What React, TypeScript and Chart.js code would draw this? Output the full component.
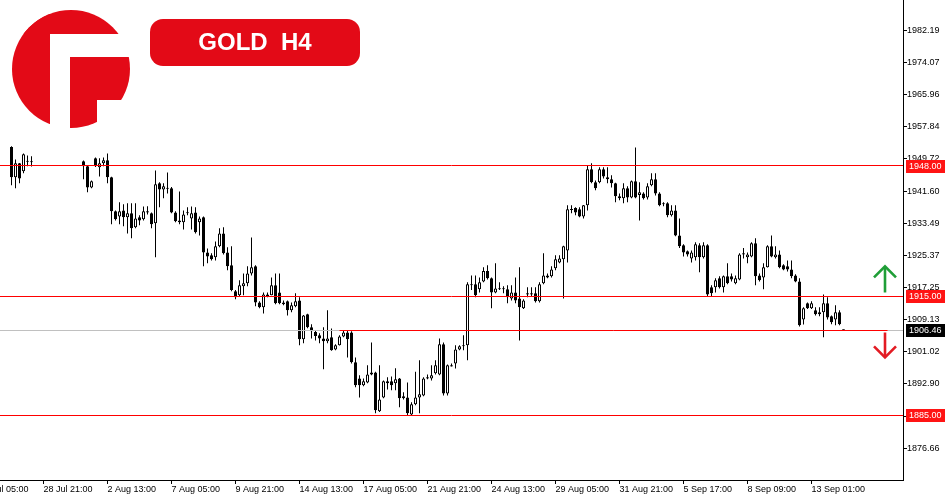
import React, { useEffect, useRef } from "react";
import { Chart, registerables } from "chart.js";

Chart.register(...registerables);

// Bar numbering: bar 0 is the "28 Jul 21:00" H4 bar. First stored bar is bar -8.
const FIRST_BAR = -8;

const opens: (number | null)[] = [
  1952.7, 1945.1, 1948.6, 1946.6, 1949.2, 1948.9,
  null, null, null, null, null, null, null, null, null, null, null, null,
  1949.1, 1947.9, 1942.5, 1949.9, 1947.6, 1948.6, 1949.4, 1945.1, 1936.5, 1935.2,
  1936.7, 1935.0, 1936.0, 1932.5, 1935.0, 1934.5, 1936.2, 1936.0, 1933.5, 1943.6,
  1942.0, 1942.4, 1942.3, 1936.2, 1934.2, 1933.7, 1936.2, 1934.7, 1936.2, 1933.7,
  1935.0, 1926.1, 1925.4, 1924.9, 1927.7, 1930.9, 1926.1, 1922.9, 1916.3, 1915.3,
  1917.6, 1918.3, 1920.8, 1922.6, 1913.5, 1912.3, 1915.0, 1915.3, 1917.8, 1916.0,
  1913.5, 1913.8, 1911.5, 1912.5, 1914.0, 1904.2, 1910.5, 1907.2, 1906.0, 1905.2,
  1904.4, 1903.7, 1904.7, 1901.6, 1902.7, 1904.9, 1905.9, 1905.9, 1898.4, 1894.3,
  1892.6, 1893.3, 1895.3, 1895.8, 1886.0, 1889.5, 1893.6, 1893.6, 1893.1, 1894.3,
  1889.8, 1889.5, 1885.2, 1887.8, 1889.5, 1890.0, 1894.6, 1894.3, 1895.6, 1895.3,
  1902.9, 1890.5, 1897.3, 1898.1, 1901.6, 1902.4, 1902.7, 1917.8, 1918.1, 1916.8,
  1918.8, 1921.4, 1919.6, 1916.0, 1916.8, 1917.0, 1916.8, 1914.5, 1916.0, 1914.5,
  1912.0, 1915.5, 1915.8, 1915.8, 1913.8, 1918.3, 1920.3, 1920.1, 1922.1, 1923.6,
  1924.4, 1926.6, 1937.0, 1937.3, 1937.0, 1935.2, 1938.0, 1947.1, 1943.8, 1943.8,
  1947.1, 1945.1, 1944.6, 1943.6, 1940.3, 1939.8, 1942.3, 1940.0, 1944.1, 1940.6,
  1941.0, 1940.0, 1943.1, 1944.6, 1941.0, 1938.3, 1938.5, 1935.5, 1936.7, 1930.4,
  1927.9, 1926.4, 1924.6, 1924.9, 1927.9, 1924.9, 1927.9, 1917.3, 1917.3, 1919.6,
  1917.3, 1920.1, 1920.1, 1918.3, 1919.3, 1925.6, 1924.9, 1925.1, 1928.4, 1920.3,
  1919.8, 1922.4, 1927.7, 1924.9, 1925.6, 1922.9, 1922.6, 1921.8, 1920.3, 1918.8,
  1909.2, 1913.3, 1912.0, 1911.5, 1910.5, 1911.0, 1913.3, 1910.0, 1909.2, 1911.0, 1906.6,
];

const highs: (number | null)[] = [
  1952.9, 1949.6, 1948.7, 1951.1, 1950.6, 1950.4,
  null, null, null, null, null, null, null, null, null, null, null, null,
  1949.3, 1948.1, 1944.3, 1950.1, 1949.9, 1950.1, 1951.1, 1945.2, 1936.7, 1938.8,
  1938.3, 1938.5, 1938.5, 1938.5, 1935.5, 1937.7, 1937.8, 1936.2, 1946.8, 1943.8,
  1943.6, 1946.3, 1942.6, 1936.5, 1941.5, 1936.7, 1937.5, 1937.7, 1937.5, 1935.2,
  1935.2, 1927.1, 1925.9, 1928.9, 1932.2, 1932.5, 1927.4, 1927.7, 1916.6, 1919.1,
  1920.8, 1922.6, 1929.9, 1922.9, 1913.8, 1916.0, 1916.0, 1919.8, 1920.8, 1920.8,
  1914.0, 1914.0, 1913.5, 1915.8, 1914.8, 1910.3, 1910.6, 1908.0, 1906.5, 1905.7,
  1907.2, 1911.5, 1906.9, 1902.9, 1905.2, 1906.4, 1906.4, 1906.2, 1899.6, 1895.1,
  1894.3, 1897.6, 1903.4, 1896.0, 1897.6, 1893.8, 1894.6, 1894.8, 1896.9, 1894.4,
  1890.8, 1893.3, 1888.3, 1896.0, 1898.9, 1894.6, 1895.3, 1897.6, 1898.9, 1904.4,
  1903.4, 1897.8, 1898.1, 1902.7, 1902.7, 1905.2, 1918.6, 1920.3, 1920.3, 1919.8,
  1922.4, 1922.9, 1919.8, 1923.4, 1918.6, 1917.6, 1917.8, 1917.8, 1919.8, 1922.4,
  1914.3, 1917.3, 1917.3, 1917.3, 1918.6, 1925.9, 1920.8, 1922.6, 1925.4, 1925.4,
  1927.8, 1938.0, 1938.0, 1937.5, 1937.5, 1938.1, 1948.1, 1948.6, 1944.3, 1947.6,
  1947.6, 1947.6, 1945.6, 1943.7, 1941.0, 1943.6, 1942.8, 1944.3, 1952.6, 1943.8,
  1941.3, 1943.6, 1946.1, 1946.1, 1941.3, 1938.8, 1938.8, 1938.0, 1938.0, 1934.7,
  1928.2, 1926.6, 1926.6, 1928.7, 1928.4, 1928.7, 1928.2, 1917.8, 1919.6, 1920.1,
  1920.3, 1923.4, 1920.8, 1920.3, 1925.9, 1927.2, 1926.1, 1928.7, 1929.7, 1920.8,
  1923.4, 1927.9, 1930.4, 1927.7, 1926.6, 1923.1, 1924.1, 1924.1, 1920.6, 1919.6,
  1912.3, 1913.5, 1913.8, 1912.3, 1912.3, 1915.5, 1914.8, 1910.2, 1912.8, 1911.5, 1906.6,
];

const lows: (number | null)[] = [
  1943.1, 1942.3, 1943.6, 1946.1, 1947.9, 1947.8,
  null, null, null, null, null, null, null, null, null, null, null, null,
  1944.6, 1941.3, 1942.3, 1947.7, 1945.3, 1947.9, 1943.6, 1933.2, 1934.2, 1933.2,
  1932.7, 1930.9, 1929.7, 1932.2, 1933.0, 1934.2, 1935.7, 1932.2, 1924.9, 1937.5,
  1939.8, 1941.0, 1936.0, 1933.7, 1933.2, 1931.9, 1935.5, 1931.9, 1930.9, 1930.4,
  1922.6, 1923.4, 1924.1, 1924.1, 1927.4, 1925.6, 1921.6, 1916.3, 1914.3, 1915.0,
  1915.3, 1917.6, 1920.3, 1912.5, 1912.0, 1910.7, 1914.8, 1915.3, 1913.0, 1913.0,
  1912.8, 1910.2, 1911.0, 1912.3, 1902.7, 1903.2, 1907.0, 1904.4, 1903.9, 1903.2,
  1896.6, 1903.2, 1901.3, 1901.4, 1902.6, 1904.7, 1899.6, 1898.1, 1892.1, 1889.5,
  1892.3, 1893.1, 1895.1, 1885.5, 1885.8, 1889.3, 1891.5, 1891.3, 1891.3, 1887.0,
  1889.0, 1885.0, 1885.0, 1887.5, 1885.5, 1889.8, 1894.1, 1893.8, 1895.3, 1895.1,
  1890.0, 1890.0, 1897.3, 1896.8, 1901.4, 1901.4, 1898.9, 1916.6, 1914.8, 1916.0,
  1918.6, 1919.3, 1912.0, 1915.8, 1916.6, 1915.8, 1913.3, 1914.0, 1913.3, 1903.9,
  1911.8, 1914.8, 1915.0, 1913.5, 1913.5, 1918.1, 1919.6, 1919.8, 1921.6, 1923.4,
  1914.5, 1923.6, 1936.0, 1935.5, 1935.0, 1934.7, 1936.7, 1943.6, 1941.8, 1943.6,
  1944.8, 1943.6, 1942.5, 1938.8, 1939.3, 1938.5, 1938.8, 1939.8, 1939.8, 1934.2,
  1939.5, 1939.5, 1942.8, 1940.5, 1937.8, 1937.8, 1935.0, 1935.2, 1930.2, 1927.2,
  1925.1, 1925.1, 1923.6, 1924.1, 1921.1, 1924.6, 1915.0, 1915.0, 1916.0, 1917.0,
  1916.0, 1918.1, 1918.8, 1918.1, 1919.1, 1924.6, 1923.4, 1924.9, 1917.8, 1918.8,
  1916.8, 1922.3, 1924.9, 1924.6, 1922.1, 1921.6, 1921.3, 1919.6, 1918.6, 1907.4,
  1907.9, 1911.8, 1911.8, 1910.2, 1910.0, 1904.7, 1909.2, 1908.0, 1907.7, 1907.7, 1906.4,
];

const closes: (number | null)[] = [
  1945.1, 1948.6, 1944.8, 1950.9, 1949.0, 1949.1,
  null, null, null, null, null, null, null, null, null, null, null, null,
  1947.9, 1942.5, 1944.1, 1947.9, 1948.6, 1949.4, 1945.1, 1936.5, 1934.5, 1936.5,
  1935.0, 1936.0, 1932.2, 1934.7, 1934.2, 1936.5, 1936.5, 1933.2, 1943.3, 1942.0,
  1942.8, 1942.2, 1936.2, 1934.0, 1933.7, 1935.7, 1936.0, 1936.0, 1931.2, 1934.7,
  1926.1, 1925.1, 1924.4, 1927.7, 1930.9, 1925.9, 1922.6, 1916.6, 1914.8, 1917.8,
  1918.3, 1920.8, 1922.4, 1913.5, 1912.3, 1915.5, 1915.5, 1917.8, 1913.3, 1913.3,
  1913.0, 1911.5, 1912.8, 1913.8, 1904.2, 1910.2, 1907.2, 1906.2, 1905.0, 1904.4,
  1903.7, 1904.4, 1901.4, 1902.7, 1904.9, 1905.9, 1904.2, 1898.4, 1892.6, 1892.6,
  1893.6, 1895.3, 1895.8, 1886.3, 1889.0, 1893.6, 1893.1, 1892.6, 1894.1, 1889.3,
  1889.3, 1885.5, 1887.8, 1889.5, 1890.3, 1894.3, 1894.3, 1895.1, 1897.6, 1902.9,
  1890.5, 1897.6, 1897.6, 1901.6, 1902.4, 1902.7, 1918.1, 1918.1, 1915.3, 1918.6,
  1921.4, 1919.6, 1916.0, 1917.0, 1917.0, 1916.8, 1914.8, 1916.0, 1914.0, 1912.3,
  1914.0, 1915.8, 1915.5, 1913.8, 1918.1, 1920.3, 1919.8, 1921.8, 1924.4, 1924.6,
  1927.7, 1937.0, 1936.8, 1936.2, 1935.2, 1938.0, 1947.1, 1943.8, 1942.3, 1947.1,
  1945.3, 1944.6, 1943.6, 1940.3, 1939.8, 1942.3, 1940.0, 1944.1, 1940.0, 1941.3,
  1939.8, 1942.8, 1944.6, 1941.0, 1938.0, 1938.5, 1935.5, 1936.7, 1930.4, 1927.7,
  1926.1, 1925.6, 1926.1, 1928.2, 1924.9, 1927.9, 1915.5, 1915.8, 1919.1, 1917.3,
  1920.1, 1918.3, 1919.3, 1919.6, 1925.6, 1925.9, 1925.6, 1928.4, 1920.1, 1919.1,
  1922.4, 1927.7, 1925.1, 1925.6, 1922.4, 1921.8, 1921.8, 1920.1, 1918.8, 1907.7,
  1912.0, 1912.0, 1913.3, 1910.5, 1911.0, 1913.3, 1909.7, 1908.5, 1911.0, 1908.0, 1906.46,
];

// Time axis: one label every 16 H4 bars
const X_TICK_BARS = [-16, 0, 16, 32, 48, 64, 80, 96, 112, 128, 144, 160, 176, 192];
const X_TICK_LABELS = [
  "26 Jul 05:00", "28 Jul 21:00", "2 Aug 13:00", "7 Aug 05:00", "9 Aug 21:00",
  "14 Aug 13:00", "17 Aug 05:00", "21 Aug 21:00", "24 Aug 13:00", "29 Aug 05:00",
  "31 Aug 21:00", "5 Sep 17:00", "8 Sep 09:00", "13 Sep 01:00",
];
const Y_TICKS = [
  1982.19, 1974.07, 1965.96, 1957.84, 1949.72, 1941.6, 1933.49,
  1925.37, 1917.25, 1909.13, 1901.02, 1892.9, 1884.78, 1876.66,
];

const X_MIN = -10.875;
const X_MAX = 214.875;
const Y_MIN = 1868.66;
const Y_MAX = 1989.84;

const LEVELS = [1948.0, 1915.0, 1885.0];
const BID = 1906.46;
const SUPPORT_PRICE = 1906.46;
const SUPPORT_FROM_BAR = 74;
const SUPPORT_TO_BAR = 211;
const UP_ARROW = [1916.0, 1922.6];
const DOWN_ARROW = [1905.9, 1899.6];

const BRAND_RED = "#e30a17";
const LINE_RED = "#ff0000";
const LABEL_FONT = '9px "Liberation Sans", Arial, sans-serif';

const overlayPlugin = {
  id: "overlay",
  afterDatasetsDraw(chart: any) {
    const { ctx, chartArea, scales } = chart;
    const x = scales.x;
    const y = scales.y;
    const crisp = (v: number) => Math.round(v - 0.5) + 0.5;
    ctx.save();
    ctx.beginPath();
    ctx.rect(chartArea.left, chartArea.top, chartArea.right - chartArea.left, chartArea.bottom - chartArea.top);
    ctx.clip();
    ctx.lineWidth = 1;
    // bid line
    const yb = crisp(y.getPixelForValue(BID));
    ctx.strokeStyle = "#c0c0c0";
    ctx.beginPath();
    ctx.moveTo(chartArea.left, yb);
    ctx.lineTo(chartArea.right, yb);
    ctx.stroke();
    // horizontal levels
    ctx.strokeStyle = LINE_RED;
    LEVELS.forEach((p) => {
      const yy = crisp(y.getPixelForValue(p));
      ctx.beginPath();
      ctx.moveTo(chartArea.left, yy);
      ctx.lineTo(chartArea.right, yy);
      ctx.stroke();
    });
    const ys = crisp(y.getPixelForValue(SUPPORT_PRICE));
    ctx.beginPath();
    ctx.moveTo(x.getPixelForValue(SUPPORT_FROM_BAR), ys);
    ctx.lineTo(x.getPixelForValue(SUPPORT_TO_BAR), ys);
    ctx.stroke();
    ctx.restore();
  },
  afterDraw(chart: any) {
    const { ctx, chartArea, scales } = chart;
    const y = scales.y;
    ctx.save();
    // price boxes on the right axis
    const box = (price: number, bg: string, text: string) => {
      const yy = Math.round(y.getPixelForValue(price));
      ctx.fillStyle = bg;
      ctx.fillRect(chartArea.right + 3, yy - 6, 39, 13);
      ctx.fillStyle = "#fff";
      ctx.font = LABEL_FONT;
      ctx.textAlign = "left";
      ctx.textBaseline = "middle";
      ctx.fillText(text, chartArea.right + 6, yy + 0.5);
    };
    LEVELS.forEach((p) => box(p, "#ff1414", p.toFixed(2)));
    box(BID, "#000", BID.toFixed(2));

    // arrows
    const cx = chartArea.right - 18;
    const arrow = (from: number, to: number, color: string) => {
      const yFrom = y.getPixelForValue(from);
      const yTo = y.getPixelForValue(to);
      const dir = yTo < yFrom ? 1 : -1;
      ctx.strokeStyle = color;
      ctx.lineWidth = 2.6;
      ctx.lineJoin = "miter";
      ctx.beginPath();
      ctx.moveTo(cx, yFrom);
      ctx.lineTo(cx, yTo + dir * 1);
      ctx.stroke();
      ctx.beginPath();
      ctx.moveTo(cx - 11, yTo + dir * 11);
      ctx.lineTo(cx, yTo);
      ctx.lineTo(cx + 11, yTo + dir * 11);
      ctx.stroke();
    };
    arrow(UP_ARROW[0], UP_ARROW[1], "#1f9e37");
    arrow(DOWN_ARROW[0], DOWN_ARROW[1], "#e31b23");

    // logo
    ctx.save();
    ctx.beginPath();
    ctx.arc(71, 69, 59, 0, Math.PI * 2);
    ctx.clip();
    ctx.fillStyle = BRAND_RED;
    ctx.fillRect(0, 0, 140, 34);
    ctx.fillRect(0, 0, 50, 140);
    ctx.fillRect(70, 57, 70, 43);
    ctx.fillRect(70, 57, 27, 83);
    ctx.restore();

    // badge
    const bx = 150, by = 19, bw = 210, bh = 47, r = 13;
    ctx.fillStyle = BRAND_RED;
    ctx.beginPath();
    ctx.moveTo(bx + r, by);
    ctx.lineTo(bx + bw - r, by);
    ctx.arcTo(bx + bw, by, bx + bw, by + r, r);
    ctx.lineTo(bx + bw, by + bh - r);
    ctx.arcTo(bx + bw, by + bh, bx + bw - r, by + bh, r);
    ctx.lineTo(bx + r, by + bh);
    ctx.arcTo(bx, by + bh, bx, by + bh - r, r);
    ctx.lineTo(bx, by + r);
    ctx.arcTo(bx, by, bx + r, by, r);
    ctx.closePath();
    ctx.fill();
    ctx.fillStyle = "#fff";
    ctx.font = 'bold 24px "Liberation Sans", Arial, sans-serif';
    ctx.textAlign = "center";
    ctx.textBaseline = "middle";
    ctx.fillText("GOLD  H4", bx + bw / 2, by + bh / 2 + 1);
    ctx.restore();
  },
};

export default function App() {
  const ref = useRef<HTMLCanvasElement>(null);

  useEffect(() => {
    if (!ref.current) return;
    const bodies: any[] = [];
    const wicks: any[] = [];
    opens.forEach((o, i) => {
      if (o == null) return;
      const bar = i + FIRST_BAR;
      bodies.push({ x: bar, y: [o, closes[i]] });
      wicks.push({ x: bar, y: [lows[i], highs[i]] });
    });

    const chart = new Chart(ref.current, {
      type: "bar",
      data: {
        datasets: [
          {
            label: "body",
            data: bodies,
            backgroundColor: (c: any) => {
              const r = c.raw;
              return r && r.y[1] >= r.y[0] ? "#ffffff" : "#000000";
            },
            borderColor: "#000",
            borderWidth: 1,
            borderSkipped: false,
            barThickness: 3,
            minBarLength: 1,
            grouped: false,
            inflateAmount: 0,
            order: 0,
          } as any,
          {
            label: "wick",
            data: wicks,
            backgroundColor: "#000",
            borderWidth: 0,
            barThickness: 1,
            minBarLength: 1,
            grouped: false,
            inflateAmount: 0,
            order: 1,
          } as any,
        ],
      },
      options: {
        animation: false,
        responsive: false,
        devicePixelRatio: 1,
        events: [],
        layout: { padding: 0 },
        plugins: { legend: { display: false }, tooltip: { enabled: false } },
        scales: {
          x: {
            type: "linear",
            position: "bottom",
            min: X_MIN,
            max: X_MAX,
            offset: false,
            grid: {
              display: true,
              offset: false,
              drawOnChartArea: false,
              drawTicks: true,
              tickLength: 4,
              color: "#000",
              lineWidth: 1,
            },
            border: { display: true, color: "#000", width: 1 },
            ticks: {
              autoSkip: false,
              maxRotation: 0,
              minRotation: 0,
              align: "start",
              padding: 0,
              color: "#000",
              font: { family: '"Liberation Sans", Arial, sans-serif', size: 9 },
              callback: (_v: any, i: number) => X_TICK_LABELS[i],
            },
            afterBuildTicks: (s: any) => {
              s.ticks = X_TICK_BARS.map((v) => ({ value: v }));
            },
            afterFit: (s: any) => {
              s.height = 20;
              s.paddingLeft = 0;
              s.paddingRight = 0;
              s.paddingTop = 0;
              s.paddingBottom = 0;
            },
          } as any,
          y: {
            type: "linear",
            position: "right",
            min: Y_MIN,
            max: Y_MAX,
            beginAtZero: false,
            grid: {
              display: true,
              drawOnChartArea: false,
              drawTicks: true,
              tickLength: 4,
              color: "#000",
              lineWidth: 1,
            },
            border: { display: true, color: "#000", width: 1 },
            ticks: {
              autoSkip: false,
              padding: 0,
              color: "#000",
              font: { family: '"Liberation Sans", Arial, sans-serif', size: 9 },
              callback: (v: any) => Number(v).toFixed(2),
            },
            afterBuildTicks: (s: any) => {
              s.ticks = Y_TICKS.map((v) => ({ value: v }));
            },
            afterFit: (s: any) => {
              s.width = 47;
              s.paddingLeft = 0;
              s.paddingRight = 0;
              s.paddingTop = 0;
              s.paddingBottom = 0;
            },
          } as any,
        },
      },
      plugins: [overlayPlugin],
    });
    return () => chart.destroy();
  }, []);

  return (
    <div style={{ position: "absolute", left: 0, top: 0, width: 950, height: 500, background: "#fff" }}>
      <canvas ref={ref} width={950} height={500} style={{ display: "block" }} />
    </div>
  );
}
